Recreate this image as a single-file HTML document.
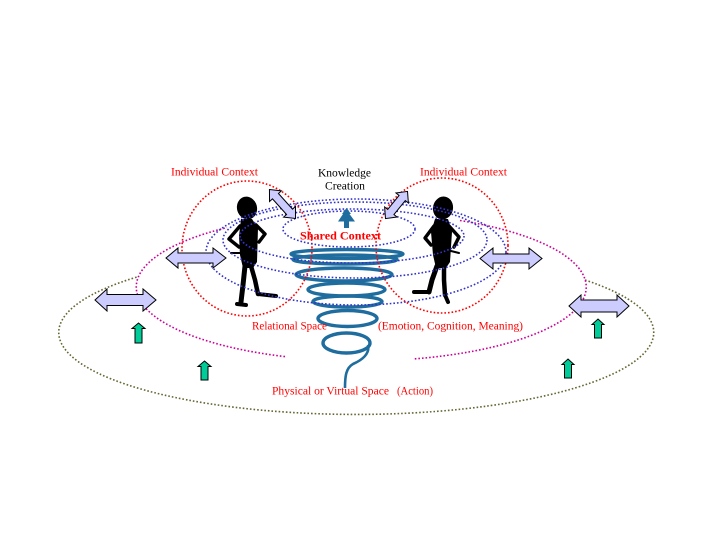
<!DOCTYPE html>
<html><head><meta charset="utf-8"><style>
html,body{margin:0;padding:0;background:#fff;}
svg{display:block;}
text{font-family:"Liberation Serif",serif;}
</style></head><body>
<svg width="719" height="539" viewBox="0 0 719 539" xmlns="http://www.w3.org/2000/svg">
<rect width="719" height="539" fill="#fff"/>

<!-- outer olive ellipse (partial) -->
<path d="M585 280 A297.5 82 0 1 1 137 277" fill="none" stroke="#666633" stroke-width="1.6" stroke-dasharray="1.6 2"/>

<!-- magenta ellipse arcs -->
<g fill="none" stroke="#cc0099" stroke-width="1.6" stroke-dasharray="1.6 2">
<path d="M460 220.5 A225 74 0 0 1 413 359"/>
<path d="M285 356.6 A225 74 0 0 1 227 227.6"/>
</g>

<!-- spiral -->
<g fill="none" stroke="#1f6c9e" stroke-width="3.4">
<ellipse cx="347" cy="254" rx="56" ry="4.5"/>
<ellipse cx="345" cy="259.5" rx="52" ry="4.5"/>
<ellipse cx="344" cy="274.5" rx="48" ry="6.5"/>
<ellipse cx="346.5" cy="289.5" rx="38.5" ry="6.5"/>
<ellipse cx="347.5" cy="301.5" rx="34.5" ry="5.5"/>
<ellipse cx="347.5" cy="318.5" rx="29.5" ry="8"/>
<ellipse cx="346.5" cy="343" rx="23.5" ry="10"/>
<path d="M368 345 C370 354,362 360,353 364 C346 368,345 376,345 388" stroke-width="2.6"/>
</g>

<!-- people -->
<g fill="#000" stroke="none">
<ellipse cx="247" cy="208" rx="10" ry="11.5" transform="rotate(-15 247 208)"/>
<path d="M241 219 L252 219 L258 228 L257 262 L253 268 L243 268 L240 255 L239 236 Z"/>
<ellipse cx="443" cy="208" rx="10" ry="11.5" transform="rotate(12 443 208)"/>
<path d="M435 219 L448 219 L452 232 L450 262 L446 268 L436 268 L433 255 L431 232 Z"/>
</g>
<g fill="none" stroke="#000" stroke-linejoin="round" stroke-linecap="round">
<path d="M240 226 L229 239 L239 247" stroke-width="3.5"/>
<path d="M256 225 L265 234 L259 242" stroke-width="3.5"/>
<path d="M231 253 L245 253" stroke-width="2"/>
<path d="M245 266 L243 285 L241 302" stroke-width="5"/>
<path d="M251 266 L255 280 L258 294" stroke-width="4.5"/>
<path d="M237 304 L246 305" stroke-width="4"/>
<path d="M258 294 L276 296" stroke-width="4"/>

<path d="M434 226 L425 238 L431 245" stroke-width="3.5"/>
<path d="M449 226 L459 237 L454 247" stroke-width="3.5"/>
<path d="M447 250 L459 253" stroke-width="2"/>
<path d="M437 266 L432 280 L429 292" stroke-width="5"/>
<path d="M429 292 L414 292" stroke-width="4"/>
<path d="M444 266 L444 280 L445 295" stroke-width="4.5"/>
<path d="M445 295 L448 302" stroke-width="4"/>
</g>

<!-- red individual context circles -->
<g fill="none" stroke="#ff0000" stroke-width="1.6" stroke-dasharray="1.6 2">
<ellipse cx="247" cy="248.5" rx="65" ry="67.5"/>
<ellipse cx="442" cy="245.5" rx="66" ry="67.5"/>
</g>

<!-- blue swirl ellipses -->
<g fill="none" stroke="#3333cc" stroke-width="1.6" stroke-dasharray="1.6 2">
<ellipse cx="356" cy="252" rx="150" ry="53"/>
<ellipse cx="355" cy="240" rx="132" ry="38"/>
<ellipse cx="352" cy="236" rx="112" ry="27"/>
<ellipse cx="349" cy="229" rx="66" ry="18"/>
</g>

<!-- lavender double arrows -->
<g fill="#ccccff" stroke="#000" stroke-width="1">
<polygon points="166,258 178,248 178,253 213,253 213,248 226,258 213,268 213,263 178,263 178,268"/>
<polygon points="480,258.5 493,248 493,254 529,254 529,248 542,258.5 529,269 529,263 493,263 493,269"/>
<polygon points="95,300 107,289 107,294.5 143,294.5 143,289 156,300 143,311 143,305.5 107,305.5 107,311"/>
<polygon points="569,306 581,295 581,300 617,300 617,295 629,306 617,317 617,312 581,312 581,317"/>
<g transform="translate(282.5 204) rotate(48)">
<polygon points="-19.5,0 -10.5,-8 -10.5,-4 10.5,-4 10.5,-8 19.5,0 10.5,8 10.5,4 -10.5,4 -10.5,8"/>
</g>
<g transform="translate(396.5 205) rotate(-51)">
<polygon points="-17.5,0 -9,-8 -9,-4 9,-4 9,-8 17.5,0 9,8 9,4 -9,4 -9,8"/>
</g>
</g>

<!-- green up arrows -->
<g fill="#00cc99" stroke="#000" stroke-width="1">
<polygon points="138.5,323 145,328.5 142,328.5 142,343 135,343 135,328.5 132,328.5"/>
<polygon points="204.5,361 211,366.5 208,366.5 208,380 201,380 201,366.5 198,366.5"/>
<polygon points="598,319 604,324.5 601.5,324.5 601.5,338 594.5,338 594.5,324.5 592,324.5"/>
<polygon points="568,359 574,364.5 571.5,364.5 571.5,378 564.5,378 564.5,364.5 562,364.5"/>
</g>

<!-- knowledge creation arrow -->
<polygon points="346.5,208 351,214 349.5,214 355,221.5 349,221.5 349,228 344,228 344,221.5 338,221.5 343,214 342,214" fill="#1f6c9e"/>

<!-- texts -->
<g font-size="12" fill="#ff0000">
<text x="171" y="175.5" textLength="87" lengthAdjust="spacingAndGlyphs">Individual Context</text>
<text x="420" y="175.5" textLength="87" lengthAdjust="spacingAndGlyphs">Individual Context</text>
<text x="300" y="239.5" font-weight="bold" textLength="81" lengthAdjust="spacingAndGlyphs">Shared Context</text>
<text x="252" y="329.5" textLength="75" lengthAdjust="spacingAndGlyphs">Relational Space</text>
<text x="378" y="329.5" textLength="145" lengthAdjust="spacingAndGlyphs">(Emotion, Cognition, Meaning)</text>
<text x="272" y="394.5" textLength="117" lengthAdjust="spacingAndGlyphs">Physical or Virtual Space</text>
<text x="397" y="394.5" textLength="36" lengthAdjust="spacingAndGlyphs">(Action)</text>
</g>
<g font-size="12" fill="#000">
<text x="318" y="176.5" textLength="53" lengthAdjust="spacingAndGlyphs">Knowledge</text>
<text x="325" y="189.5" textLength="40" lengthAdjust="spacingAndGlyphs">Creation</text>
</g>
</svg>
</body></html>
